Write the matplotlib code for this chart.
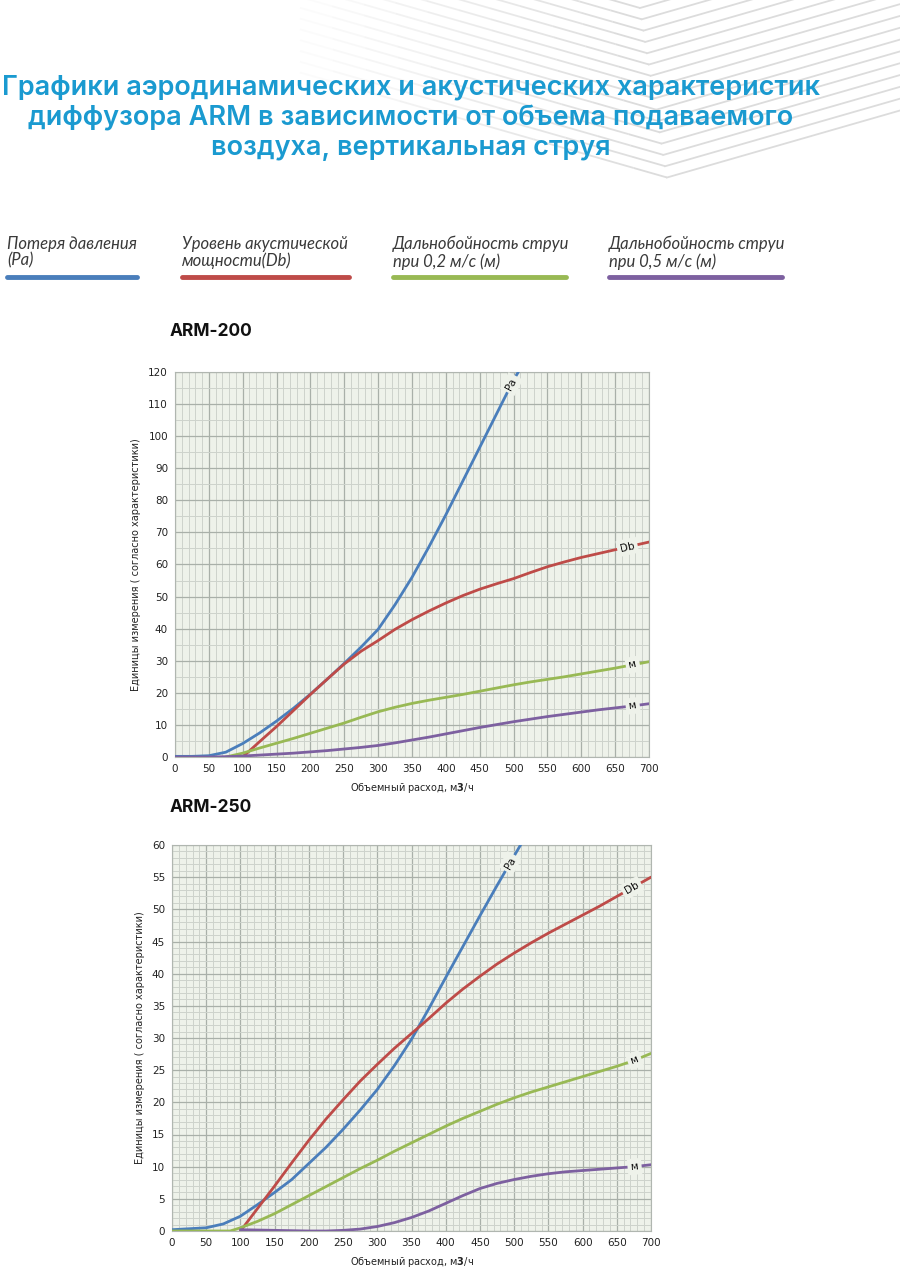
import numpy as np
import matplotlib.pyplot as plt
from matplotlib.ticker import MultipleLocator

# ---- data ----
# ARM-200
x200_pa = [0, 25, 50, 75, 100, 125, 150, 175, 200, 225, 250, 275, 300, 325, 350, 375, 400, 425, 450, 475, 500, 507]
pa200 = [0.2, 0.2, 0.4, 1.5, 4.2, 7.5, 11.2, 15.2, 19.6, 24.3, 29.2, 34.3, 39.8, 47.5, 56, 65.5, 75.5, 86, 96.5, 107, 117.5, 120]
x200_db = [100, 125, 150, 175, 200, 225, 250, 275, 300, 325, 350, 375, 400, 425, 450, 475, 500, 525, 550, 575, 600, 625, 650, 675, 700]
db200 = [0, 4.8, 9.5, 14.5, 19.5, 24.3, 29, 33, 36.3, 39.8, 42.8, 45.5, 48, 50.3, 52.3, 54, 55.6, 57.5, 59.3, 60.8, 62.2, 63.4, 64.6, 65.8, 67]
x200_g = [75, 100, 125, 150, 175, 200, 225, 250, 275, 300, 325, 350, 375, 400, 425, 450, 475, 500, 525, 550, 575, 600, 625, 650, 675, 700]
g200 = [0, 1.2, 2.8, 4.3, 5.8, 7.4, 9, 10.6, 12.4, 14.1, 15.5, 16.7, 17.7, 18.6, 19.5, 20.5, 21.5, 22.5, 23.4, 24.2, 25, 25.9, 26.8, 27.7, 28.7, 29.7]
x200_v = [0, 25, 50, 75, 100, 125, 150, 175, 200, 225, 250, 275, 300, 325, 350, 375, 400, 425, 450, 475, 500, 525, 550, 575, 600, 625, 650, 675, 700]
v200 = [0, 0, 0, 0.1, 0.3, 0.6, 0.9, 1.2, 1.6, 2, 2.5, 3, 3.6, 4.4, 5.3, 6.2, 7.2, 8.2, 9.2, 10.1, 11, 11.8, 12.6, 13.3, 14, 14.7, 15.3, 15.9, 16.6]

# ARM-250
x250_pa = [0, 25, 50, 75, 100, 125, 150, 175, 200, 225, 250, 275, 300, 325, 350, 375, 400, 425, 450, 475, 500, 511]
pa250 = [0.2, 0.35, 0.5, 1.1, 2.3, 4.1, 6, 8, 10.5, 13, 15.8, 18.8, 22, 25.7, 29.8, 34.5, 39.4, 44.2, 49, 53.7, 58.3, 60.3]
x250_db = [100, 125, 150, 175, 200, 225, 250, 275, 300, 325, 350, 375, 400, 425, 450, 475, 500, 525, 550, 575, 600, 625, 650, 675, 700]
db250 = [0, 3.5, 7, 10.6, 14.1, 17.4, 20.4, 23.3, 25.9, 28.4, 30.7, 33, 35.4, 37.6, 39.6, 41.5, 43.2, 44.8, 46.3, 47.7, 49.1, 50.5, 52, 53.5, 55]
x250_g = [0, 25, 50, 85, 100, 125, 150, 175, 200, 225, 250, 275, 300, 325, 350, 375, 400, 425, 450, 475, 500, 525, 550, 575, 600, 625, 650, 675, 700]
g250 = [0, 0, 0, 0, 0.5, 1.5, 2.7, 4.1, 5.5, 6.9, 8.3, 9.7, 11, 12.4, 13.7, 15, 16.3, 17.5, 18.6, 19.7, 20.7, 21.6, 22.4, 23.2, 24, 24.8, 25.6, 26.5, 27.6]
x250_v = [100, 125, 150, 175, 200, 225, 250, 275, 300, 325, 350, 375, 400, 425, 450, 475, 500, 525, 550, 575, 600, 625, 650, 675, 700]
v250 = [0.2, 0.15, 0.1, 0.05, 0, 0, 0.1, 0.3, 0.7, 1.3, 2.1, 3.1, 4.3, 5.5, 6.6, 7.4, 8, 8.5, 8.9, 9.2, 9.4, 9.6, 9.8, 10, 10.3]

legend_labels = ["Потеря давления\n(Pa)", "Уровень акустической\nмощности(Db)",
                 "Дальнобойность струи\nпри 0,2 м/с (м)", "Дальнобойность струи\nпри 0,5 м/с (м)"]
curve_tags = ["Pa", "Db", "м", "м"]

C_BLUE = "#4a7ebb"
C_RED = "#be4b48"
C_GREEN = "#98b954"
C_PURPLE = "#7d60a0"
COLORS = [C_BLUE, C_RED, C_GREEN, C_PURPLE]
AX_BG = "#eef2ea"
TITLE_C = "#1a9ad0"

W, H = 900, 1272
fig = plt.figure(figsize=(W / 100, H / 100), dpi=100)
fig.patch.set_facecolor("white")

# overlay for decoration, in pixel coordinates
deco = fig.add_axes([0, 0, 1, 1], zorder=0)
deco.set_xlim(0, W)
deco.set_ylim(H, 0)
deco.axis("off")

# chevron-like grey lines at the top right
for i in range(16):
    vx = 640 + i * 1.8
    vy = 8 + i * 11.3
    lx, ly = 300, vy - 105 * (vx - 300) / 367
    rx, ry = 900, vy - 67 * (900 - vx) / 233
    # fade the left arm
    xs = np.linspace(lx, vx, 12)
    ys = np.linspace(ly, vy, 12)
    for k in range(11):
        deco.plot(xs[k:k + 2], ys[k:k + 2], color="#dcdcdc", lw=1.3,
                  alpha=0.1 + 0.9 * k / 10, solid_capstyle="butt")
    deco.plot([vx, rx], [vy, ry], color="#dcdcdc", lw=1.3)

# title
title_lines = ["Графики аэродинамических и акустических характеристик",
               "диффузора ARM в зависимости от объема подаваемого",
               "воздуха, вертикальная струя"]
for j, t in enumerate(title_lines):
    deco.text(411, 88 + j * 30, t, ha="center", va="center", fontsize=19.5,
              color=TITLE_C, family="Inter", weight="semibold")

# legend row
leg_x = [7, 182, 393, 609]
leg_end = [137, 349, 566, 782]
for lx, le, lab, c in zip(leg_x, leg_end, legend_labels, COLORS):
    deco.text(lx, 236, lab, ha="left", va="top", fontsize=12, color="#3a3a3a",
              family="Lato", style="italic", linespacing=1.05)
    deco.plot([lx, le], [277, 277], color=c, lw=3.5, solid_capstyle="round")

deco.text(170, 331, "ARM-200", ha="left", va="center", fontsize=12.5,
          weight="bold", family="Inter", color="#111111")
deco.text(170, 808, "ARM-250", ha="left", va="center", fontsize=12.5,
          weight="bold", family="Inter", color="#111111")


def tag(ax, xs, ys, x0, text):
    # label sitting in a gap of the curve, rotated along it
    y0 = np.interp(x0, xs, ys)
    p1 = ax.transData.transform((x0 - 8, np.interp(x0 - 8, xs, ys)))
    p2 = ax.transData.transform((x0 + 8, np.interp(x0 + 8, xs, ys)))
    ang = np.degrees(np.arctan2(p2[1] - p1[1], p2[0] - p1[0]))
    ax.text(x0, y0, text, rotation=ang, rotation_mode="anchor", ha="center",
            va="center", fontsize=7.5, color="#111111", zorder=5,
            bbox=dict(boxstyle="square,pad=0.3", fc=AX_BG, ec="none"))


def chart(rect, ymax, ymaj, ymin, series, tag_x):
    ax = fig.add_axes(rect, zorder=2)
    ax.set_facecolor(AX_BG)
    ax.set_xlim(0, 700)
    ax.set_ylim(0, ymax)
    ax.xaxis.set_major_locator(MultipleLocator(50))
    ax.xaxis.set_minor_locator(MultipleLocator(10))
    ax.yaxis.set_major_locator(MultipleLocator(ymaj))
    ax.yaxis.set_minor_locator(MultipleLocator(ymin))
    ax.grid(which="major", color="#a9b0a9", lw=0.9)
    ax.grid(which="minor", color="#cdd3cc", lw=0.7)
    ax.set_axisbelow(True)
    ax.tick_params(which="both", length=0, labelsize=7.5, colors="#222222", pad=5)
    for s in ax.spines.values():
        s.set_color("#b0b6b0")
        s.set_linewidth(0.8)
    for (xs, ys), c in zip(series, COLORS):
        ax.plot(xs, ys, color=c, lw=2, solid_capstyle="round", zorder=3, clip_on=True)
    for (xs, ys), tx, t in zip(series, tag_x, curve_tags):
        tag(ax, xs, ys, tx, t)
    ax.set_ylabel("Единицы измерения ( согласно характеристики)", fontsize=7,
                  color="#222222", labelpad=5)
    ax.set_xlabel("Объемный расход, м$\\mathbf{3}$/ч", fontsize=7,
                  color="#222222", labelpad=5)
    return ax


ax1 = chart([175 / W, 1 - 757 / H, 474 / W, 385 / H], 120, 10, 5,
            [(x200_pa, pa200), (x200_db, db200), (x200_g, g200), (x200_v, v200)],
            [497, 668, 676, 676])
ax2 = chart([172 / W, 1 - 1231 / H, 479 / W, 386 / H], 60, 5, 1,
            [(x250_pa, pa250), (x250_db, db250), (x250_g, g250), (x250_v, v250)],
            [494, 672, 676, 676])

fig.savefig("out.png", dpi=100)
